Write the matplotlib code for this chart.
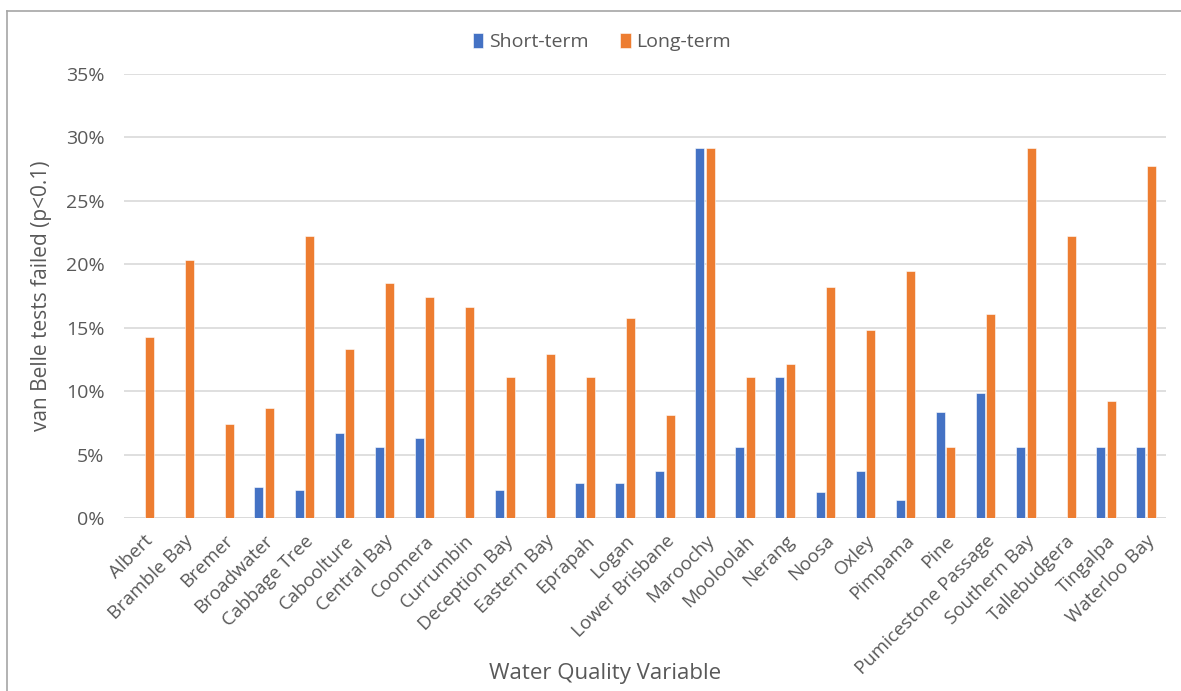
import numpy as np
import matplotlib.pyplot as plt
from matplotlib.lines import Line2D
from matplotlib.ticker import PercentFormatter

sites = ['Albert', 'Bramble Bay', 'Bremer', 'Broadwater', 'Cabbage Tree',
         'Caboolture', 'Central Bay', 'Coomera', 'Currumbin', 'Deception Bay',
         'Eastern Bay', 'Eprapah', 'Logan', 'Lower Brisbane', 'Maroochy',
         'Mooloolah', 'Nerang', 'Noosa', 'Oxley', 'Pimpama', 'Pine',
         'Pumicestone Passage', 'Southern Bay', 'Tallebudgera', 'Tingalpa',
         'Waterloo Bay']

# percentage of van Belle tests failed
short_term = [0, 0, 0, 2.47, 2.22, 6.67, 5.56, 6.30, 0, 2.22,
              0, 2.78, 2.78, 3.70, 29.17, 5.56, 11.11, 2.04, 3.70, 1.41,
              8.33, 9.88, 5.56, 0, 5.56, 5.56]
long_term = [14.29, 20.37, 7.41, 8.64, 22.22, 13.33, 18.52, 17.46, 16.67, 11.11,
             12.96, 11.11, 15.74, 8.15, 29.17, 11.11, 12.12, 18.18, 14.81, 19.44,
             5.56, 16.05, 29.17, 22.22, 9.26, 27.78]

blue = '#4472c4'
orange = '#ed7d31'
grey = '#595959'

plt.rcParams['font.family'] = ['Open Sans', 'DejaVu Sans']

W, H = 1181, 691
fig = plt.figure(figsize=(W / 100, H / 100), dpi=100)
ax = fig.add_axes([124 / W, 1 - 518 / H, 1042 / W, 444 / H])

x = np.arange(len(sites))
width = 0.225
ax.bar(x - 0.133, short_term, width=width, color=blue, label='Short-term',
       edgecolor='white', linewidth=0.4, zorder=3)
ax.bar(x + 0.133, long_term, width=width, color=orange, label='Long-term',
       edgecolor='white', linewidth=0.4, zorder=3)

ax.set_xlim(-0.5, len(sites) - 0.5)
ax.set_ylim(0, 35)
ax.set_yticks(np.arange(0, 36, 5))
ax.yaxis.set_major_formatter(PercentFormatter(decimals=0))
ax.grid(axis='y', color='#d9d9d9', linewidth=1.2, zorder=0)
for s in ax.spines.values():
    s.set_visible(False)
ax.axhline(0, color='#d9d9d9', linewidth=1.2, zorder=1)

ax.set_xticks(x)
ax.set_xticklabels(sites, rotation=45, ha='right', rotation_mode='anchor')
ax.tick_params(axis='x', length=0, pad=10, labelsize=13.5, labelcolor=grey)
ax.tick_params(axis='y', length=0, pad=14, labelsize=14, labelcolor=grey)

ax.set_ylabel('van Belle tests failed (p<0.1)', fontsize=15, color=grey,
              labelpad=10)
fig.text(605 / W, 1 - 674 / H, 'Water Quality Variable', fontsize=16,
         color=grey, ha='center', va='center')

# legend is centred on the whole chart area, not the plot
fig.legend(*ax.get_legend_handles_labels(), loc='center',
           bbox_to_anchor=(602 / W, 1 - 42 / H), ncol=2,
           frameon=False, fontsize=14, labelcolor=grey, handlelength=0.55,
           handleheight=0.85, handletextpad=0.3, columnspacing=1.6)

# chart frame
fig.add_artist(Line2D([7 / W, 7 / W], [0, 1 - 11 / H],
                      color='#a6a6a6', linewidth=1.2))
fig.add_artist(Line2D([7 / W, 1], [1 - 11 / H, 1 - 11 / H],
                      color='#a6a6a6', linewidth=1.2))

fig.savefig('out.png', dpi=100)
